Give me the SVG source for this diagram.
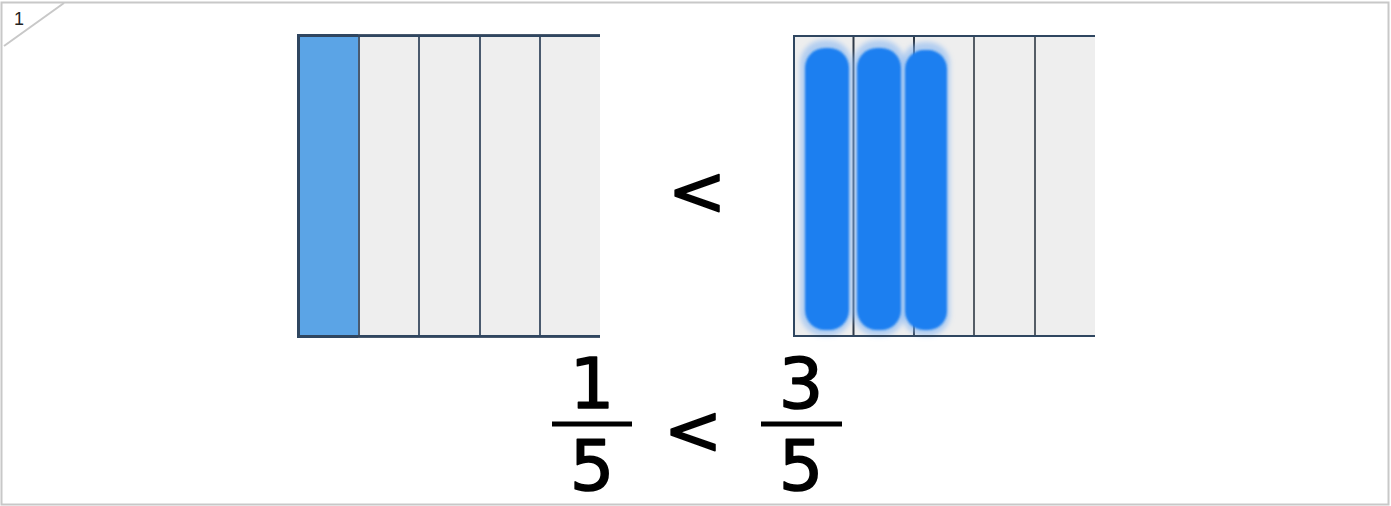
<svg xmlns="http://www.w3.org/2000/svg" width="1391" height="506" viewBox="0 0 1391 506">
<style>
.cell{fill:#eeeeee;stroke:#4a5a6e;stroke-width:2}
.frame{fill:none;stroke:#2f4660;stroke-width:2}
.num{font-family:"DejaVu Sans","Liberation Sans",sans-serif;font-size:70px;fill:#000;stroke:#000;stroke-width:1.6;stroke-linejoin:round;text-anchor:middle}
.bar{stroke:#000;stroke-width:5}
.halo{fill:#7fb3f2;opacity:0.55}
.core{fill:#1a7ff0}
</style>
<defs>
<filter id="soft" filterUnits="userSpaceOnUse" x="780" y="20" width="200" height="330"><feGaussianBlur stdDeviation="2.5"/></filter>
<filter id="edge" filterUnits="userSpaceOnUse" x="780" y="20" width="200" height="330"><feGaussianBlur stdDeviation="1.2"/></filter>
</defs>
<rect x="1.5" y="2.5" width="1387" height="502" fill="#fff" stroke="#c8c8c8" stroke-width="2"/>
<line x1="4" y1="46" x2="64" y2="3" stroke="#c8c8c8" stroke-width="2"/>
<text x="19" y="25" font-family="Liberation Sans,sans-serif" font-size="18" fill="#222" text-anchor="middle">1</text>
<g id="left-bar">
<rect x="298" y="35" width="61" height="302" fill="#5ba4e6" stroke="#2f4660" stroke-width="2"/>
<rect class="cell" x="359" y="35" width="60" height="302"/>
<rect class="cell" x="419" y="35" width="61" height="302"/>
<rect class="cell" x="480" y="35" width="60" height="302"/>
<rect x="540" y="35" width="60" height="302" fill="#eeeeee"/>
<path d="M600 35 H540 V337 H600" fill="none" stroke="#4a5a6e" stroke-width="2"/>
<path d="M600 36 H299 V336 H600" class="frame"/>
</g>
<g id="right-bar">
<rect x="793" y="35" width="302" height="302" fill="#eeeeee"/>
<line x1="853.5" y1="35" x2="853.5" y2="337" stroke="#2f3a48" stroke-width="2"/>
<line x1="914" y1="35" x2="914" y2="337" stroke="#2f3a48" stroke-width="2"/>
<line x1="974" y1="35" x2="974" y2="337" stroke="#555d66" stroke-width="2"/>
<line x1="1035" y1="35" x2="1035" y2="337" stroke="#555d66" stroke-width="2"/>
<g filter="url(#soft)">
<rect class="halo" x="800" y="40" width="52" height="296" rx="24"/>
<rect class="halo" x="853" y="40" width="52" height="296" rx="24"/>
<rect class="halo" x="902" y="42" width="48" height="294" rx="22"/>
</g>
<g filter="url(#edge)">
<rect class="core" x="805" y="48" width="44" height="282" rx="20"/>
<rect class="core" x="857" y="48" width="44" height="282" rx="20"/>
<rect class="core" x="905" y="50" width="42" height="280" rx="19"/>
</g>
<path d="M1095 36 H794 V336 H1095" class="frame"/>
</g>
<g id="compare-top">
<text class="num" x="697" y="215" font-size="80" stroke-width="2.5">&lt;</text>
</g>
<g id="fraction-left">
<text class="num" x="592" y="408">1</text>
<line class="bar" x1="552" y1="424" x2="632" y2="424"/>
<text class="num" x="592" y="490">5</text>
</g>
<g id="compare-bottom">
<text class="num" x="693" y="454" font-size="80" stroke-width="2.5">&lt;</text>
</g>
<g id="fraction-right">
<text class="num" x="801" y="408">3</text>
<line class="bar" x1="761" y1="424" x2="842" y2="424"/>
<text class="num" x="801" y="490">5</text>
</g>
</svg>
